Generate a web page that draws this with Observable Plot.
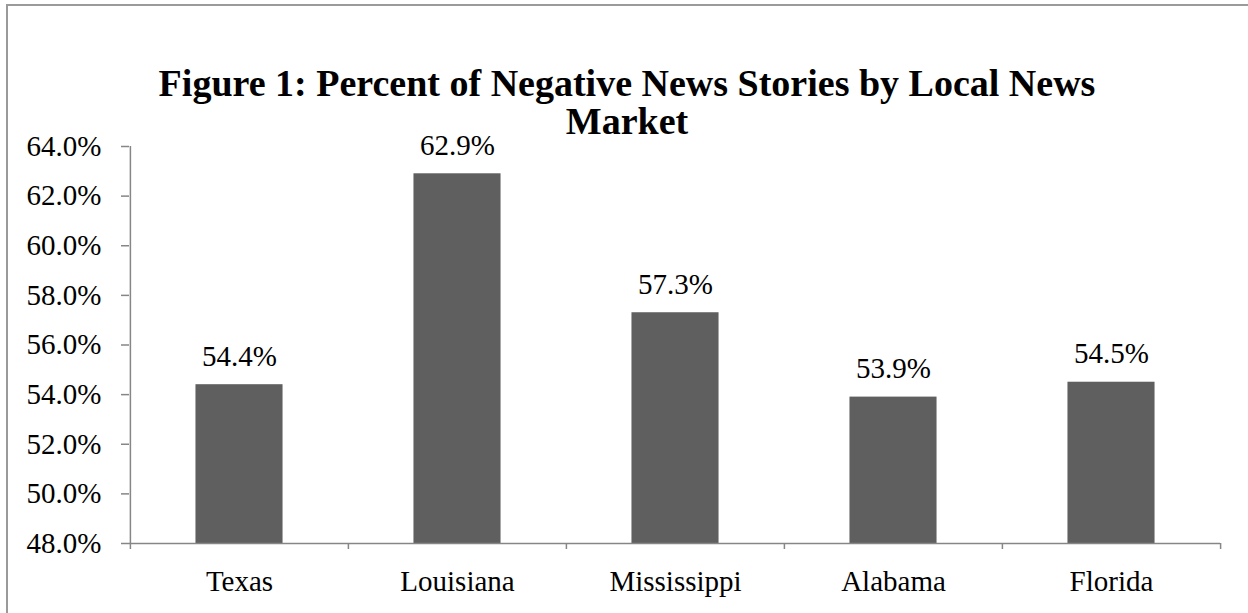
<!DOCTYPE html>
<html>
<head>
<meta charset="utf-8">
<script src="https://cdn.jsdelivr.net/npm/d3@7"></script>
<script src="https://cdn.jsdelivr.net/npm/@observablehq/plot@0.6"></script>
<style>
  html, body { margin: 0; padding: 0; background: #fff; overflow: hidden; }
  #page { position: relative; width: 1248px; height: 613px; overflow: hidden; background: #fff; }
  #border { position: absolute; left: 6px; top: 4px; width: 1400px; height: 800px;
            border-top: 2px solid #9a9a9a; border-left: 2px solid #9a9a9a; box-sizing: border-box; }
  #title { position: absolute; left: 0; top: 0; width: 1248px; height: 120px; text-align: center;
           font-family: "Liberation Serif", serif; font-weight: bold; font-size: 38px; line-height: 38px;
           color: #000; padding-top: 64px; box-sizing: border-box; }
  #title div { margin-left: 6px; }
  #chart { position: absolute; left: 0; top: 120px; }
</style>
</head>
<body>
<div id="page">
  <div id="border"></div>
  <div id="title"><div>Figure 1: Percent of Negative News Stories by Local News</div><div>Market</div></div>
  <div id="chart"></div>
</div>
<script>
const categories = ["Texas", "Louisiana", "Mississippi", "Alabama", "Florida"];
const values = [54.4, 62.9, 57.3, 53.9, 54.5];
const yTicks = [48, 50, 52, 54, 56, 58, 60, 62, 64];

const data = categories.map((c, i) => ({market: c, pct: values[i]}));

const W = 1248, H = 493, mL = 129, mR = 28, mT = 26, mB = 70;
const bw = (W - mL - mR) / categories.length;
const frameH = H - mT - mB;
const axisGray = "#868686";

const chart = Plot.plot({
  width: W, height: H,
  marginLeft: mL, marginRight: mR, marginTop: mT, marginBottom: mB,
  style: {fontFamily: "'Liberation Serif', serif", fontSize: "29px", color: "#000", background: "transparent", overflow: "visible"},
  x: {domain: categories, padding: 0, axis: null},
  y: {domain: [48, 64], axis: null},
  marks: [
    Plot.barY(data, {x: "market", y1: 48, y2: "pct", fill: "#5f5f5f", insetLeft: bw * 0.3, insetRight: bw * 0.3}),
    Plot.ruleY([48], {stroke: axisGray, strokeWidth: 1.5}),
    Plot.ruleX([categories[0]], {dx: -bw / 2, stroke: axisGray, strokeWidth: 1.5}),
    Plot.ruleX(categories, {dx: -bw / 2, insetTop: frameH, insetBottom: -6, stroke: axisGray, strokeWidth: 1.5}),
    Plot.ruleX([categories[categories.length - 1]], {dx: bw / 2, insetTop: frameH, insetBottom: -6, stroke: axisGray, strokeWidth: 1.5}),
    Plot.axisY({ticks: yTicks, tickSize: 8, tickPadding: 20, tickFormat: d => d.toFixed(1) + "%", stroke: axisGray, strokeWidth: 1.5, fill: "#000", label: null}),
    Plot.axisX({tickSize: 0, tickPadding: 27, fill: "#000", label: null}),
    Plot.text(data, {x: "market", y: "pct", text: d => d.pct.toFixed(1) + "%", dy: -19, lineAnchor: "bottom", fill: "#000"})
  ]
});
document.getElementById("chart").appendChild(chart);
</script>
</body>
</html>
